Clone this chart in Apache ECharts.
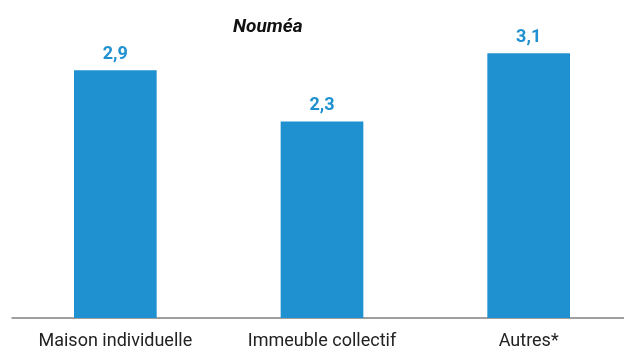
<!DOCTYPE html>
<html>
<head>
<meta charset="utf-8">
<script src="https://cdn.jsdelivr.net/npm/echarts@6/dist/echarts.min.js"></script>
<style>
  html, body { margin: 0; padding: 0; background: #fff; overflow: hidden; }
  #wrap { width: 624px; height: 347px; overflow: hidden; }
  #chart { width: 632px; height: 347px; }
</style>
</head>
<body>
<div id="wrap"><div id="chart"></div></div>
<script>
var categories = ['Maison individuelle', 'Immeuble collectif', 'Autres*'];
var values = [2.9, 2.3, 3.1];

var chart = echarts.init(document.getElementById('chart'));

chart.setOption({
    backgroundColor: '#fff',
    animation: false,
    title: {
        text: 'Nouméa',
        left: 228,
        top: 13,
        textStyle: {
            fontFamily: 'Roboto',
            fontSize: 19,
            fontWeight: 'bold',
            fontStyle: 'italic',
            color: '#111'
        }
    },
    grid: {
        left: 12,
        right: 0,
        top: 19,
        bottom: 29,
        outerBoundsMode: 'none'
    },
    xAxis: {
        type: 'category',
        data: categories,
        axisLine: { lineStyle: { color: '#808080', width: 1.5 } },
        axisTick: { show: false },
        axisLabel: {
            margin: 14,
            fontFamily: 'Roboto',
            fontSize: 18,
            color: '#222'
        }
    },
    yAxis: {
        type: 'value',
        min: 0,
        max: 3.5,
        show: false,
        splitLine: { show: false }
    },
    series: [{
        type: 'bar',
        data: values,
        barWidth: '40%',
        itemStyle: { color: '#1f90d0' },
        label: {
            show: true,
            position: 'top',
            distance: 7,
            fontFamily: 'Roboto',
            fontSize: 18,
            fontWeight: 'bold',
            color: '#1f90d0',
            formatter: function (p) {
                return String(p.value).replace('.', ',');
            }
        }
    }]
});
</script>
</body>
</html>
